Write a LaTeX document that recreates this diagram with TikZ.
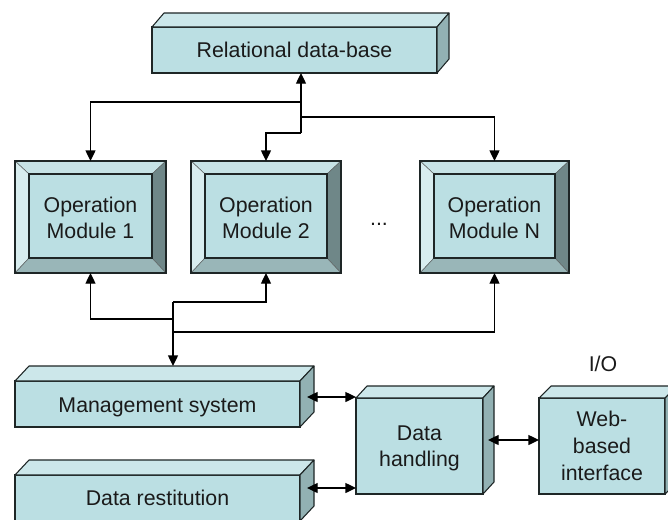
\documentclass[tikz,border=0pt]{standalone}
\usepackage{fontspec}
\setmainfont{Liberation Sans}
\usetikzlibrary{calc,fit,arrows.meta}
\definecolor{frontc}{HTML}{BBDFE3}
\definecolor{topc}{HTML}{CCE7EA}
\definecolor{sidec}{HTML}{92B1B3}
\definecolor{bevtop}{HTML}{C6E3E6}
\definecolor{bevleft}{HTML}{D8EDEF}
\definecolor{bevright}{HTML}{6F8788}
\definecolor{bevbot}{HTML}{99B6B8}
\definecolor{edgec}{HTML}{1E2626}
\definecolor{txtc}{HTML}{1A1A1A}
\tikzset{
 face/.style={fill=frontc, draw=edgec, line width=0.8pt, inner sep=0pt, outer sep=0pt},
 facepoly/.style={draw=edgec, line width=0.8pt, line join=round},
 bev/.style={draw=edgec!70, line width=0.4pt},
 edge/.style={draw=edgec, line width=0.8pt},
 arr/.style={draw=black, line width=1pt, -{Triangle[length=8pt,width=7.5pt]}},
 dbl/.style={draw=black, line width=1pt, {Triangle[length=8pt,width=7.5pt]}-{Triangle[length=8pt,width=7.5pt]}},
 lbl/.style={font=\fontsize{16}{19.5}\selectfont, text=txtc, inner sep=0pt, align=center},
}
\newcommand\slabfaces[3]{%
 \filldraw[facepoly, fill=topc] (#1.north west) -- ++(#2,-#3) -- ($(#1.north east)+(#2,-#3)$) -- (#1.north east) -- cycle;
 \filldraw[facepoly, fill=sidec] (#1.north east) -- ++(#2,-#3) -- ($(#1.south east)+(#2,-#3)$) -- (#1.south east) -- cycle;
 \coordinate (#1-top) at ($(#1.north)+(#2,-#3)$);
}
\newcommand\bevelframe[1]{%
 \coordinate (#1-a) at ($(#1.north west)+(14,13)$);
 \coordinate (#1-b) at ($(#1.north east)+(-14,13)$);
 \coordinate (#1-c) at ($(#1.south east)+(-14,-15)$);
 \coordinate (#1-d) at ($(#1.south west)+(14,-15)$);
 \filldraw[bev, fill=bevtop] (#1.north west) -- (#1.north east) -- (#1-b) -- (#1-a) -- cycle;
 \filldraw[bev, fill=bevleft] (#1.north west) -- (#1-a) -- (#1-d) -- (#1.south west) -- cycle;
 \filldraw[bev, fill=bevright] (#1.north east) -- (#1.south east) -- (#1-c) -- (#1-b) -- cycle;
 \filldraw[bev, fill=bevbot] (#1.south west) -- (#1-d) -- (#1-c) -- (#1.south east) -- cycle;
 \draw[edge] (#1.north west) rectangle (#1.south east);
 \draw[edge] (#1-a) rectangle (#1-c);
}
\begin{document}
\begin{tikzpicture}[x=0.75pt,y=-0.75pt]
\useasboundingbox (0,0) rectangle (668,519);
\fill[white] (0,0) rectangle (668,519);
\clip (0,0) rectangle (668,519);

% Relational data-base
\node[face, fit={(152,27)(437,73)}] (db) {};
\slabfaces{db}{12}{14}
\node[lbl] (tdb) at (db.center) {Relational data-base};

% Operation modules
\node[face, fit={(15,161)(166,273)}] (m1) {};
\bevelframe{m1}
\node[lbl] (t1) at ($($(m1-a)!0.5!(m1-c)$)+(0,2)$) {Operation\\Module 1};
\node[face, fit={(191,161)(341,273)}] (m2) {};
\bevelframe{m2}
\node[lbl] (t2) at ($($(m2-a)!0.5!(m2-c)$)+(0,2)$) {Operation\\Module 2};
\node[face, fit={(420,161)(569,273)}] (mN) {};
\bevelframe{mN}
\node[lbl] (tN) at ($($(mN-a)!0.5!(mN-c)$)+(0,2)$) {Operation\\Module N};
\node[lbl] (dots) at (379,224) {...};

% Lower boxes
\node[face, fit={(15,381)(300,427)}] (ms) {};
\slabfaces{ms}{14}{15}
\node[lbl] (tms) at ($(ms.center)+(0,3)$) {Management system};
\node[face, fit={(15,475)(300,521)}] (dr) {};
\slabfaces{dr}{14}{15}
\node[lbl] (tdr) at ($(dr.center)+(0,0)$) {Data restitution};
\node[face, fit={(356,398)(483,494)}] (dh) {};
\slabfaces{dh}{11}{12}
\node[lbl] (tdh) at ($(dh.center)+(0,2)$) {Data\\handling};
\node[face, fit={(539,398)(665,494)}] (web) {};
\slabfaces{web}{12}{12}
\node[lbl, font=\fontsize{16}{20}\selectfont] (tweb) at (web.center) {Web-\\based\\interface};
\node[lbl] (io) at (603,364) {I/O};

% Top connectors
\coordinate (tj) at (301,133);
\coordinate (tl) at (301,102);
\coordinate (tr) at (301,117);
\draw[arr] (tj) -- (tj |- db.south);
\draw[arr] (tl) -| (m1.north);
\draw[arr] (tr) -| (mN.north);
\draw[arr] (tj) -| (m2.north);

% Bottom connectors
\coordinate (b2) at (173,302);
\coordinate (b1) at (173,319);
\coordinate (bN) at (173,332);
\draw[arr] (b2) -| (m2.south);
\draw[arr] (b1) -| (m1.south);
\draw[arr] (bN) -| (mN.south);
\draw[arr] (b2) -- (b2 |- ms-top);

% Double arrows
\coordinate (msr) at ($(ms.east)+(7,-7)$);
\coordinate (drr) at ($(dr.east)+(7,-10)$);
\coordinate (dhr) at ($(dh.east)+(5,-6)$);
\draw[dbl] (msr) -- (msr -| dh.west);
\draw[dbl] (drr) -- (drr -| dh.west);
\draw[dbl] (dhr) -- (dhr -| web.west);
\end{tikzpicture}
\end{document}
